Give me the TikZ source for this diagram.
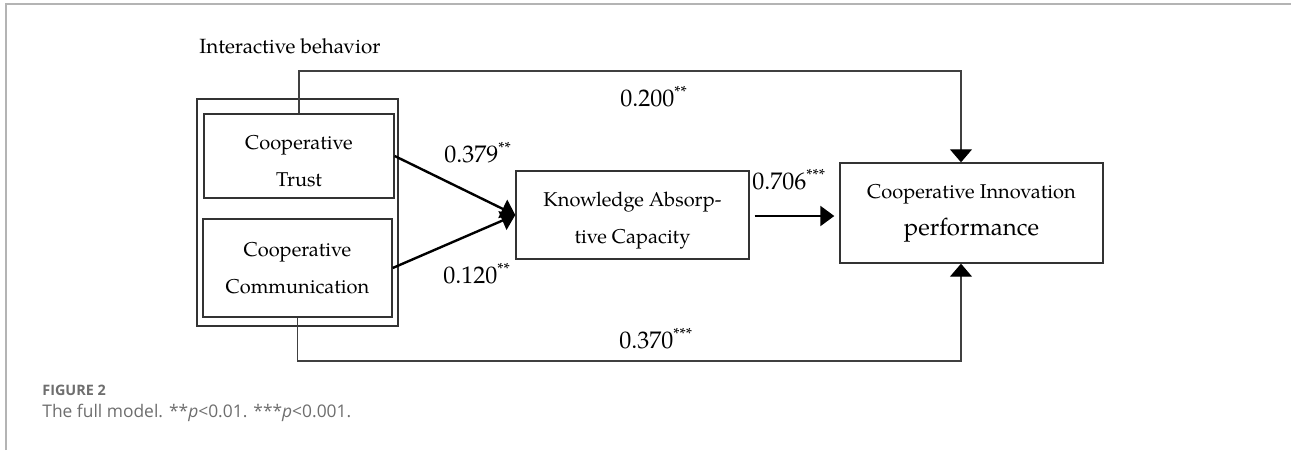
\documentclass[tikz,border=0pt]{standalone}
\usepackage{fontspec}
\setmainfont{texgyrepagella}[Extension=.otf, UprightFont=*-regular, BoldFont=*-bold, ItalicFont=*-italic, BoldItalicFont=*-bolditalic]
\newfontfamily\capfont{Open Sans}
\usetikzlibrary{arrows.meta}
\definecolor{framegray}{HTML}{B4B4B4}
\definecolor{boxgray}{HTML}{333333}
\definecolor{capgray}{HTML}{6E6E6E}

\begin{document}
\begin{tikzpicture}[x=0.5pt,y=-0.5pt,
  box/.style={draw=boxgray, line width=0.7pt, align=center, inner sep=0pt, font=\fontsize{10}{18.5}\selectfont},
  effect/.style={line width=1.2pt, -{Triangle[length=7pt,width=10pt]}},
  link/.style={draw=black!75, line width=0.55pt, -{Triangle[length=6.5pt,width=11pt,color=black]}},
  coef/.style={anchor=base west, inner sep=0pt, font=\fontsize{12}{14}\selectfont}]

\useasboundingbox (0,0) rectangle (1291,450);
\draw[framegray, line width=0.75pt] (6,450) -- (6,4) -- (1291,4);

\node[anchor=base west, inner sep=0pt, font=\fontsize{10.3}{12}\selectfont] (title) at (199,53) {Interactive behavior};

\node[box, minimum width=100.5pt, minimum height=113.5pt] (group) at (297.5,212.5) {};
\node[box, minimum width=95pt, minimum height=42pt] (trust) at (299,156) {\rule{0pt}{12.5pt}Cooperative\\Trust};
\node[box, minimum width=94.5pt, minimum height=49pt] (comm) at (297.5,268) {Cooperative\\Communication};
\node[box, minimum width=116.5pt, minimum height=44pt] (know) at (632.5,215) {\rule{0pt}{13pt}Knowledge Absorp-\\tive Capacity};
\node[box, minimum width=131.5pt, minimum height=50pt] (perf) at (971.5,213) {Cooperative Innovation\\{\fontsize{12}{14}\selectfont performance}};

\draw[effect] (trust.east) -- (know.west);
\draw[effect] (comm.east) -- (know.west);
\draw[effect, shorten <=2.5pt, shorten >=2.5pt] ([yshift=-0.5pt]know.east) -- ([yshift=-0.5pt]know.east -| perf.west);

\coordinate (topbend) at (961,71);
\coordinate (botbend) at (961,361);
\draw[link] (trust.north) |- (topbend) -- (topbend |- perf.north);
\draw[link] (comm.south) |- (botbend) -- (botbend |- perf.south);

\foreach \nm/\pos/\val/\st in {c379/{444,162}/0.379/**, c120/{443,283}/0.120/**, c706/{752,189}/0.706/***, c200/{620,106}/0.200/**, c370/{619,348}/0.370/***}
\node[coef] (\nm) at (\pos) {\val\textsuperscript{\st}};

\node[anchor=base west, inner sep=0pt, text=capgray, font=\capfont\bfseries\fontsize{7.2}{9}\selectfont] (fig) at (42,395) {FIGURE 2};
\node[anchor=base west, inner sep=0pt, text=capgray, font=\capfont\fontsize{8.7}{10}\selectfont] (caption) at (42,417) {The full model. **\textit{p}<0.01. ***\textit{p}<0.001.};

\end{tikzpicture}
\end{document}
